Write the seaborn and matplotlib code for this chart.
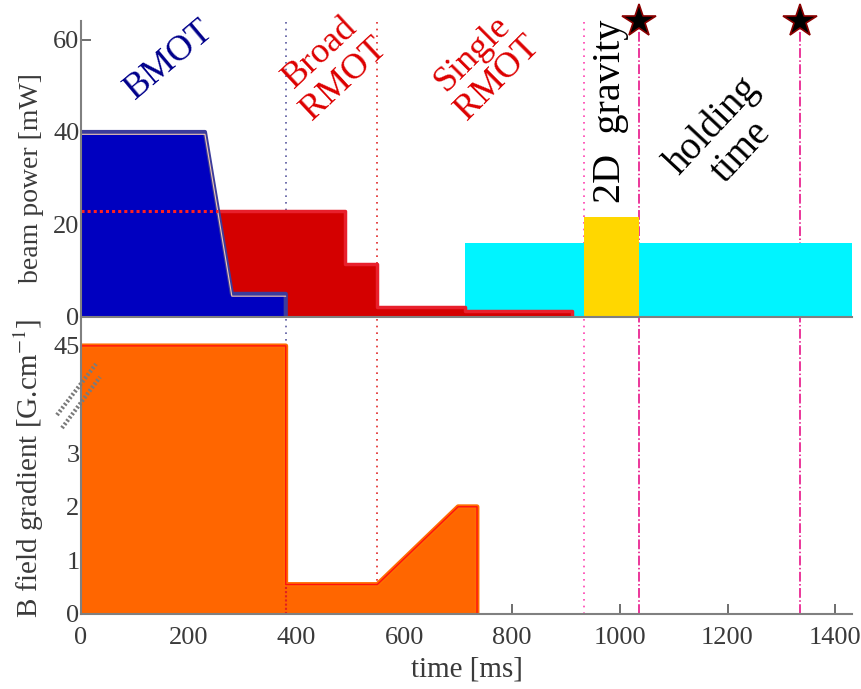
import numpy as np
import pandas as pd
import matplotlib
matplotlib.use("Agg")
import matplotlib.pyplot as plt
import seaborn as sns
from matplotlib.lines import Line2D

# --- beam power sequence: time [ms], power [mW] ---
bmot_t = [0, 230, 280, 380, 380]
bmot_p = [40, 40, 5, 5, 0]
rmot_t = [0, 490, 490, 550, 550, 713, 713, 912, 912]
rmot_p = [23, 23, 11.5, 11.5, 2.2, 2.2, 1.4, 1.4, 0]
probe_t = [713, 1431]
probe_p = [16, 16]
gravity_t = [933, 1036]
gravity_p = [21.7, 21.7]

# --- magnetic field gradient sequence: time [ms], gradient [G/cm] ---
grad_t = [0, 380, 380, 550, 700, 735, 735]
grad_g = [45, 45, 0.55, 0.55, 2.0, 2.0, 0]

# phase boundaries and imaging times [ms]
phase_t = [380, 550, 933]
image_t = [1036, 1335]

x_ticks = [0, 200, 400, 600, 800, 1000, 1200, 1400]
power_ticks = [0, 20, 40, 60]
grad_ticks = [0, 1, 2, 3, 4, 45]
grad_tick_labels = ["0", "1", "2", "3", "", "45"]

X_MAX = 1431
BREAK = 4.0


def squash(g):
    """Broken gradient axis: values above BREAK are compressed into one unit."""
    g = np.asarray(g, dtype=float)
    return np.where(g > BREAK, BREAK + (g - BREAK) / 41.0, g)


sns.set_style("ticks")
plt.rcParams["font.family"] = ["Liberation Serif", "DejaVu Serif"]
plt.rcParams["mathtext.fontset"] = "stix"

TXT = "#3a3a3a"
SPINE = "#808080"

fig = plt.figure(figsize=(8.61, 6.89), dpi=100)
W, H = 861, 689
ax1 = fig.add_axes([81 / W, 1 - 317 / H, 771 / W, 296 / H])
ax2 = fig.add_axes([81 / W, 1 - 614 / H, 771 / W, 296 / H])


def outline(ax, t, v, color, lw, z, ls="-"):
    df = pd.DataFrame({"t": t, "v": v})
    sns.lineplot(data=df, x="t", y="v", sort=False, estimator=None, color=color,
                 lw=lw, ls=ls, ax=ax, zorder=z, legend=False)


# phase boundaries and imaging instants, drawn behind the sequences
vline_styles = [
    dict(color="#5a5aa0", ls=(0, (1, 3)), lw=1.2),
    dict(color="#e02828", ls=(0, (1, 3)), lw=1.2),
    dict(color="#ff40b0", ls=(0, (1, 3)), lw=1.2),
]
for ax in (ax1, ax2):
    for t, st in zip(phase_t, vline_styles):
        ax.axvline(t, zorder=0.5, **st)
    for t in image_t:
        ax.axvline(t, color="#e6007e", ls="-.", lw=1.1, zorder=0.5)

# ---------------- top panel: beam power ----------------
ax1.fill_between(probe_t, probe_p, color="#00f4ff", lw=0, zorder=1)
ax1.fill_between(gravity_t, gravity_p, color="#ffd700", lw=0, zorder=1)
ax1.fill_between(rmot_t, rmot_p, color="#d40000", lw=0, zorder=2)
outline(ax1, rmot_t, rmot_p, "#e8202c", 2.5, 2.1)
ax1.fill_between(bmot_t, bmot_p, color="#0000c0", lw=0, zorder=3)
outline(ax1, bmot_t, bmot_p, "#3c3c9c", 3.0, 3.1)
outline(ax1, bmot_t[:4], np.array(bmot_p[:4]) - 0.5, "#f0c8b0", 0.8, 3.2)

# broad RMOT level continuing under the BMOT ramp
t_cross = np.interp(-rmot_p[0], [-bmot_p[1], -bmot_p[2]], [bmot_t[1], bmot_t[2]])
ax1.plot([0, t_cross], [rmot_p[0], rmot_p[0]], color="#ff2020", ls=(0, (1, 1)),
         lw=2.2, zorder=4)

# imaging instants
ax1.plot(image_t, [64, 64], ls="none", marker="*", ms=25, mfc="black",
         mec="#8b0000", mew=1.2, zorder=10, clip_on=False)

ax1.set_xlim(0, X_MAX)
ax1.set_ylim(0, 64)
ax1.set_xticks(x_ticks)
ax1.set_xticklabels([])
ax1.set_yticks(power_ticks)
ax1.set_xlabel("")
ax1.set_ylabel("beam power [mW]", fontsize=20, color=TXT)
ax1.yaxis.set_label_coords(-0.048, 0.47)

ax1.text(164, 55.5, "BMOT", color="#00008b", fontsize=26, rotation=40,
         ha="center", va="center")
ax1.text(466, 54.3, "Broad\nRMOT", color="#dd0000", fontsize=26, rotation=43,
         ha="center", va="center", linespacing=1.1)
ax1.text(750, 54.3, "Single\nRMOT", color="#dd0000", fontsize=26, rotation=45,
         ha="center", va="center", linespacing=1.1)
ax1.text(982, 44.5, "2D  gravity", color="black", fontsize=29, rotation=90,
         ha="center", va="center")
ax1.text(1199, 38.5, "holding\ntime", color="black", fontsize=28, rotation=47,
         ha="center", va="center", linespacing=1.1)

# ---------------- bottom panel: field gradient ----------------
gy = squash(grad_g)
ax2.fill_between(grad_t, gy, color="#ff6600", lw=0, zorder=2)
outline(ax2, grad_t, gy, "#ff6c00", 3.5, 2.1)
outline(ax2, grad_t, gy, "#ff1010", 1.0, 2.2)
ax2.plot([grad_t[1], grad_t[2]], [0, gy[2]], color="#e02020", ls=(0, (1, 1)),
         lw=1.5, zorder=3)

ax2.set_xlim(0, X_MAX)
ax2.set_ylim(0, 5.52)
ax2.set_xticks(x_ticks)
ax2.set_xticklabels([str(v) for v in x_ticks])
ax2.set_yticks(squash(grad_ticks))
ax2.set_yticklabels(grad_tick_labels)
ax2.set_xlabel("time [ms]", fontsize=21, color=TXT, labelpad=6)
ax2.set_ylabel("B field gradient [G.cm$^{-1}$]", fontsize=21, color=TXT)
ax2.yaxis.set_label_coords(-0.046, 0.49)

for ax in (ax1, ax2):
    sns.despine(ax=ax)
    for s in ("left", "bottom"):
        ax.spines[s].set_color(SPINE)
        ax.spines[s].set_linewidth(1.5)
        ax.spines[s].set_zorder(6)
    ax.tick_params(direction="in", length=7, width=1.2, colors="#555555",
                   labelcolor=TXT, labelsize=19, pad=1, zorder=6)
    ax.set_facecolor("none")
ax2.tick_params(axis="y", colors="#ff1a1a", labelcolor=TXT)
ax2.tick_params(axis="x", pad=9)

# axis-break marks on the gradient axis
for (x0, y0, x1, y1) in [(57, 415, 96, 364), (62, 428, 100, 377)]:
    fig.add_artist(Line2D([x0 / W, x1 / W], [1 - y0 / H, 1 - y1 / H],
                          transform=fig.transFigure, color="#7a7a7a",
                          lw=3, ls=(0, (0.5, 0.5)), zorder=20))

fig.savefig("out.png", dpi=100)
